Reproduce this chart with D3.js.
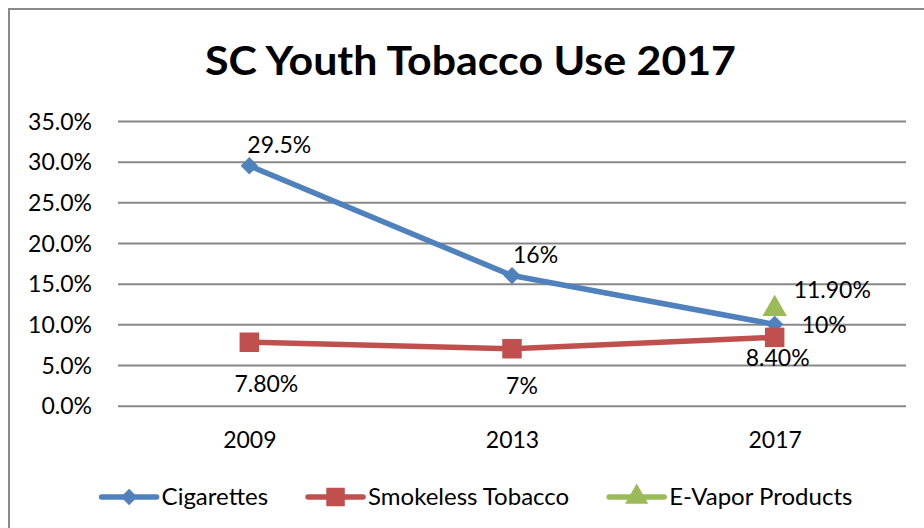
<!DOCTYPE html>
<html>
<head>
<meta charset="utf-8">
<script src="https://cdn.jsdelivr.net/npm/d3@7"></script>
<style>
  html, body { margin: 0; padding: 0; background: #fff; }
  svg { display: block; }
  text { font-family: Lato, "Open Sans", sans-serif; }
</style>
</head>
<body>
<svg id="chart" width="924" height="528"></svg>
<script>
// ---- data ----
const title = "SC Youth Tobacco Use 2017";
const years = ["2009", "2013", "2017"];
const seriesNames = ["Cigarettes", "Smokeless Tobacco", "E-Vapor Products"];
const cigarettes = [0.295, 0.16, 0.10];
const smokeless = [0.078, 0.07, 0.084];
const eVapor = [null, null, 0.119];
const cigaretteLabels = ["29.5%", "16%", "10%"];
const smokelessLabels = ["7.80%", "7%", "8.40%"];
const eVaporLabels = [null, null, "11.90%"];
const yTicks = [0, 0.05, 0.10, 0.15, 0.20, 0.25, 0.30, 0.35];

// ---- styles / layout ----
const colors = ["#4F81BD", "#C0504D", "#9BBB59"];
const symbols = [d3.symbolSquare, d3.symbolSquare, d3.symbolTriangle];
const symbolRot = [45, 0, 0];
const symbolSizes = [150, 380, 260];
const fontSize = 23;
// label placement relative to point: [dx, dy, anchor]
const labelPlacement = [
  [[-2, -12.5, "start"], [1, -12.5, "start"], [27, 9, "start"]],
  [[17, 50, "middle"], [10, 45, "middle"], [3, 29, "middle"]],
  [null, null, [19, -11, "start"]]
];

const svg = d3.select("#chart");
const x = d3.scalePoint().domain(years).range([118, 906]).padding(0.5);
const y = d3.scaleLinear().domain([0, 0.35]).range([405.7, 121]);

// outer border
svg.append("rect").attr("x", 9).attr("y", 9).attr("width", 940).attr("height", 540)
  .attr("fill", "none").attr("stroke", "#8a8a8a").attr("stroke-width", 2);

// title
svg.append("text").attr("x", 470.5).attr("y", 75).attr("text-anchor", "middle")
  .attr("font-size", 40).attr("font-weight", "bold").attr("fill", "#000")
  .attr("textLength", 531).attr("lengthAdjust", "spacingAndGlyphs")
  .text(title);

// gridlines + y axis
const yAxis = d3.axisLeft(y).tickValues(yTicks).tickFormat(d3.format(".1%"))
  .tickSize(-(906 - 118)).tickPadding(26);
const gy = svg.append("g").attr("transform", "translate(118,0)").call(yAxis);
gy.select(".domain").remove();
gy.selectAll(".tick line").attr("stroke", "#888").attr("stroke-width", 2);
gy.selectAll(".tick text").attr("font-size", fontSize).attr("fill", "#000")
  .attr("font-family", "Lato, 'Open Sans', sans-serif").attr("dy", "0.36em");

// x axis labels
const xAxis = d3.axisBottom(x).tickSize(0).tickPadding(0);
const gx = svg.append("g").attr("transform", "translate(0,405.7)").call(xAxis);
gx.select(".domain").remove();
gx.selectAll(".tick text").attr("font-size", fontSize).attr("fill", "#000")
  .attr("font-family", "Lato, 'Open Sans', sans-serif").attr("dy", 0).attr("y", 42.3);

const allSeries = [cigarettes, smokeless, eVapor];
const allLabels = [cigaretteLabels, smokelessLabels, eVaporLabels];

const line = d3.line().defined(d => d.v != null).x(d => x(d.c)).y(d => y(d.v));

allSeries.forEach((vals, si) => {
  const pts = vals.map((v, i) => ({ c: years[i], v }));
  svg.append("path").datum(pts).attr("d", line).attr("fill", "none")
    .attr("stroke", colors[si]).attr("stroke-width", 5.5).attr("stroke-linejoin", "round");
  svg.selectAll(null).data(pts.filter(d => d.v != null)).enter().append("path")
    .attr("d", d3.symbol().type(symbols[si]).size(symbolSizes[si]))
    .attr("transform", d => `translate(${x(d.c)},${y(d.v)}) rotate(${symbolRot[si]})`)
    .attr("fill", colors[si]);
});

// data labels
allSeries.forEach((vals, si) => {
  vals.forEach((v, i) => {
    if (v == null) return;
    const p = labelPlacement[si][i];
    svg.append("text").attr("x", x(years[i]) + p[0]).attr("y", y(v) + p[1])
      .attr("text-anchor", p[2]).attr("font-size", fontSize).attr("fill", "#000")
      .text(allLabels[si][i]);
  });
});

// legend
const legend = svg.append("g");
let cx = 0;
const legendY = 497;
seriesNames.forEach((name, si) => {
  const g = legend.append("g").attr("transform", `translate(${cx},0)`);
  g.append("line").attr("x1", 0).attr("x2", 55).attr("y1", legendY).attr("y2", legendY)
    .attr("stroke", colors[si]).attr("stroke-width", 5.5).attr("stroke-linecap", "round");
  g.append("path").attr("d", d3.symbol().type(symbols[si]).size(symbolSizes[si] * 0.9))
    .attr("transform", `translate(27.5,${legendY}) rotate(${symbolRot[si]})`).attr("fill", colors[si]);
  const t = g.append("text").attr("x", 60).attr("y", legendY + 8).attr("font-size", 24)
    .attr("fill", "#000").text(name);
  cx += 60 + t.node().getComputedTextLength() + 40;
});
const totalW = cx - 40;
legend.attr("transform", `translate(${477 - totalW / 2},0)`);
</script>
</body>
</html>
